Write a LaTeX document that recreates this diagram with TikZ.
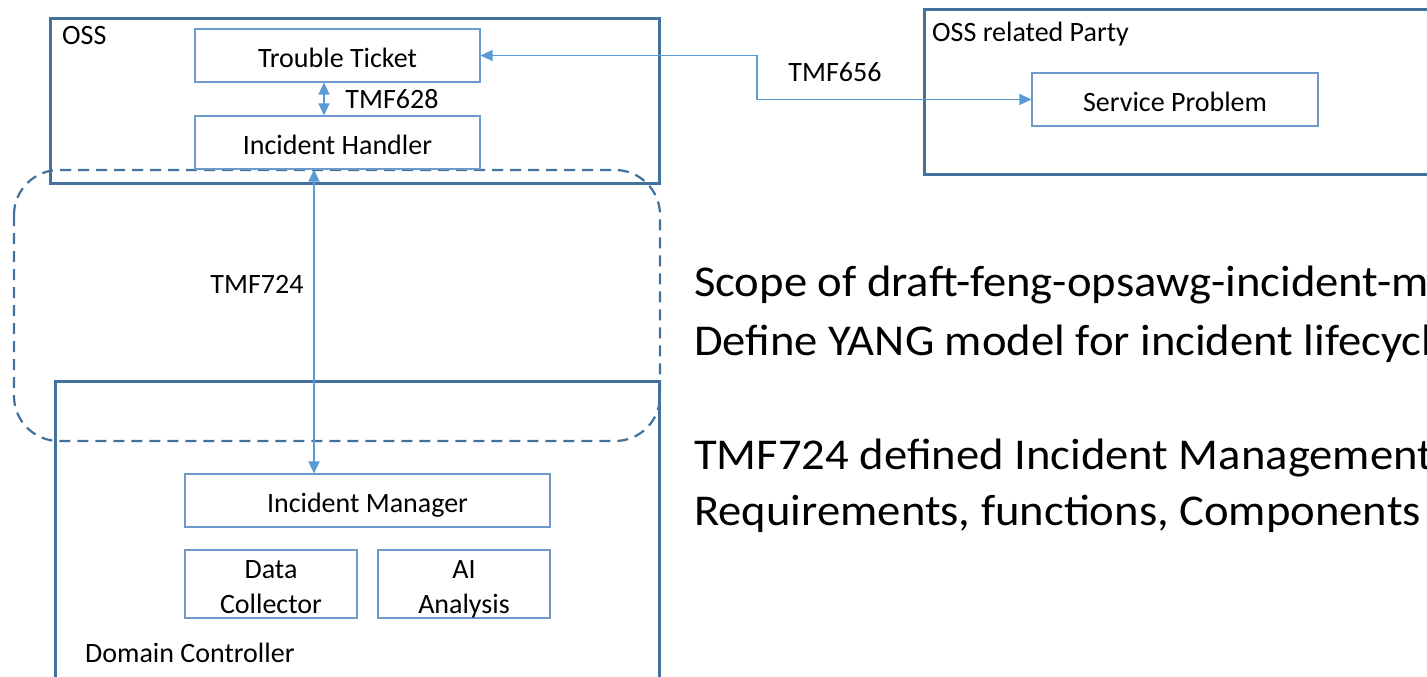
\documentclass[tikz,border=0pt]{standalone}
\usepackage{fontspec}
\setmainfont{Carlito}
\newfontfamily\notefont{Carlito}[FakeStretch=1.06]
\usetikzlibrary{arrows.meta}
\definecolor{frame}{HTML}{41719C}
\definecolor{boxline}{HTML}{6C9BCB}
\definecolor{link}{HTML}{5B9BD5}

\begin{document}
\begin{tikzpicture}[x=1pt, y=-1pt,
    outer/.style={draw=frame, line width=2.6pt, anchor=north west, inner sep=0pt},
    inner/.style={draw=boxline, line width=1.1pt, minimum width=285pt, minimum height=53pt, inner sep=0pt, text height=25pt, text depth=1pt, font=\fontsize{28}{35}\selectfont},
    twoline/.style={minimum width=172pt, minimum height=68pt, align=center, text height=63pt, text depth=5pt},
    lbl/.style={font=\fontsize{28}{30}\selectfont, inner sep=0pt},
    big/.style={font=\notefont\fontsize{44}{50}\selectfont, inner sep=0pt, anchor=base west},
    arr/.style={draw=link, line width=1.3pt, {Triangle[length=12pt, width=11pt, fill=link]}-{Triangle[length=12pt, width=11pt, fill=link]}}]
      \useasboundingbox (0,0) rectangle (1427,677);
      \clip (0,0) rectangle (1427,677);
      \fill[white] (0,0) rectangle (1427,677);
      % Outer frames
      \node[outer, minimum width=609pt, minimum height=165pt] (oss) at (49,17) {};
      \node[outer, minimum width=560pt, minimum height=165pt] (party) at (923,8) {};
      \node[outer, minimum width=604pt, minimum height=320pt] (dc) at (54,380) {};
      \node[lbl, anchor=west] (osslbl) at (62,36) {OSS};
      \node[lbl, anchor=west] (partylbl) at (932,34) {OSS related Party};
      \node[lbl, anchor=west] (dclbl) at (85,653) {Domain Controller};
      % Scope of the draft
      \draw[frame, line width=2.2pt, dash pattern=on 11pt off 7pt, rounded corners=45pt] (14,170) rectangle (660,441);
      % Components
      \node[inner] (tt) at (337.5,55.5) {Trouble Ticket};
      \node[inner] (ih) at (337.5,142.5) {Incident Handler};
      \node[inner, minimum width=286pt] (sp) at (1175,99.5) {Service Problem};
      \node[inner, minimum width=365pt] (im) at (367.5,500.5) {Incident Manager};
      \node[inner, twoline] (dcol) at (271,584) {Data\\Collector};
      \node[inner, twoline] (ai) at (464,584) {AI\\Analysis};
      % Interfaces
      \coordinate (x628) at (324,0);
      \coordinate (x724) at (314,0);
      \coordinate (bend) at (757,78);
      \draw[arr] (tt.south -| x628) -- (ih.north -| x628);
      \draw[arr] (ih.south -| x724) -- (im.north -| x724);
      \draw[arr] (tt.east) -| (bend) |- (sp.west);
      \node[lbl] (tmf628) at (392,99) {TMF628};
      \node[lbl] (tmf656) at (835,72) {TMF656};
      \node[lbl] (tmf724) at (257,284) {TMF724};
      % Notes
      \node[big] (note1) at (694,296) {Scope of draft-feng-opsawg-incident-management};
      \node[big] (note2) at (694,355) {Define YANG model for incident lifecycle management};
      \node[big] (note3) at (694,469) {TMF724 defined Incident Management API};
      \node[big] (note4) at (694,525) {Requirements, functions, Components};
\end{tikzpicture}
\end{document}
